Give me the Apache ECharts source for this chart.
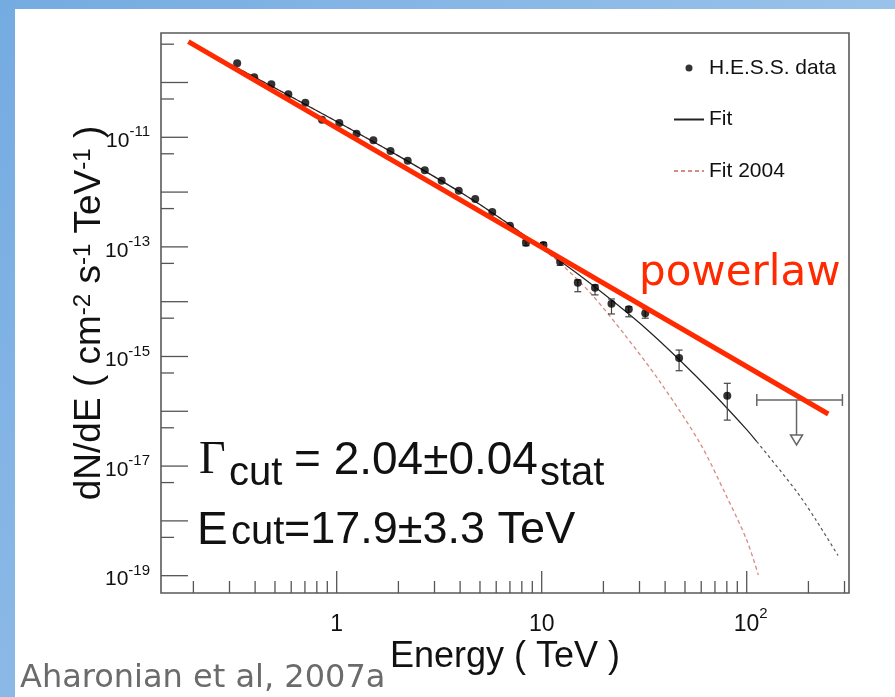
<!DOCTYPE html>
<html><head><meta charset="utf-8">
<script src="https://cdn.jsdelivr.net/npm/echarts@6/dist/echarts.min.js"></script>
<style>html,body{margin:0;padding:0;background:#fff}#c{width:895px;height:697px}</style>
</head><body><div id="c"></div>
<script>
// ---------------- data ----------------
const energy = [0.327,0.396,0.480,0.581,0.703,0.848,1.03,1.25,1.51,1.83,2.22,2.69,3.25,3.94,4.74,5.74,7.0,8.38,10.2,12.3,15.0,18.2,21.9,26.6,32.0,46.8,80.4];
const flux = [2.24e-10,1.24e-10,9.27e-11,6.09e-11,4.28e-11,2.10e-11,1.82e-11,1.16e-11,8.8e-12,5.62e-12,3.74e-12,2.50e-12,1.61e-12,1.06e-12,7.48e-13,4.33e-13,2.44e-13,1.19e-13,1.08e-13,5.37e-14,2.22e-14,1.80e-14,9.2e-15,7.26e-15,6.14e-15,9.4e-16,1.93e-16];
const errEnergy = [8.38,10.2,12.3,15.0,18.2,21.9,26.6,32.0,46.8,80.4];
const errLow  = [1.05e-13,9.6e-14,4.6e-14,1.52e-14,1.33e-14,5.97e-15,5.3e-15,5.0e-15,5.5e-16,6.9e-17];
const errHigh = [1.33e-13,1.2e-13,6.2e-14,2.49e-14,2.02e-14,1.12e-14,8.1e-15,7.4e-15,1.31e-15,3.24e-16];
// upper limit: energy, energy low, energy high, flux, arrow tip
const ulEnergy = [175], ulEnergyLow = [112], ulEnergyHigh = [293], ulFlux = [1.61e-16], ulTip = [2.43e-17];

const fitEnergy = [0.2,0.5,1,2,4,6.26,10,15.7,23.5,32.6,46.8,68.6,100,112];
const fitFlux   = [4.9e-10,7.94e-11,1.94e-11,4.58e-12,1.0e-12,3.37e-13,9.55e-14,2.82e-14,8.67e-15,3.11e-15,8.81e-16,2.11e-16,4.64e-17,2.80e-17];
const fitExtEnergy = [112,175.9,220,279];
const fitExtFlux   = [2.80e-17,3.37e-18,9.75e-19,2.33e-19];
const fit2004Energy = [0.2,0.5,1,2,4,6.26,10,12.29,17.2,25.0,37.8,59.2,79.9,100,114];
const fit2004Flux   = [4.9e-10,7.94e-11,1.94e-11,4.58e-12,1.0e-12,3.37e-13,9.35e-14,5.08e-14,1.47e-14,2.69e-15,3.43e-16,2.61e-17,2.77e-18,4.48e-19,1.03e-19];
const powerlawEnergy = [0.189,250];
const powerlawFlux   = [5.55e-10,8.93e-17];

const xMin = 0.139, xMax = 315.5, yMin = 4.83e-20, yMax = 8.0e-10;
const xMajorTicks = [1,10,100];
const xMinorTicks = [0.2,0.3,0.4,0.5,0.6,0.7,0.8,0.9,2,3,4,5,6,7,8,9,20,30,40,50,60,70,80,90,200,300];
const yMajorTicks = [1e-10,1e-11,1e-12,1e-13,1e-14,1e-15,1e-16,1e-17,1e-18,1e-19];
const yMinorTicks = [5e-10,5e-11,5e-12,5e-13,5e-14,5e-15,5e-16,5e-17,5e-18,5e-19];
const xLabelValues = [1,10,100];
const xTickLabels = ['1','10','10^2'];
const yLabelValues = [1e-11,1e-13,1e-15,1e-17,1e-19];
const yTickLabels = ['10^-11','10^-13','10^-15','10^-17','10^-19'];

// ---------------- chart ----------------
const chart = echarts.init(document.getElementById('c'), null, {renderer:'canvas'});
const AX = '#555';
const labelFont = 'Liberation Sans, Arial, sans-serif';
function richOf(s){ const p = s.split('^'); return '{b|'+p[0]+'}' + (p[1]?'{s|'+p[1]+'}':''); }

function tickSeries(values, axis, len){
  return {type:'custom', silent:true, clip:false, z:6,
    data: values.map(v => axis==='x' ? [v, yMin] : [xMin, v]),
    renderItem(params, api){
      const cs = params.coordSys;
      const p = api.coord([api.value(0), api.value(1)]);
      if(axis==='x') return {type:'line', shape:{x1:p[0], y1:cs.y+cs.height, x2:p[0], y2:cs.y+cs.height-len}, style:{stroke:AX, lineWidth:1.3}};
      return {type:'line', shape:{x1:cs.x, y1:p[1], x2:cs.x+len, y2:p[1]}, style:{stroke:AX, lineWidth:1.3}};
    }};
}
function labelSeries(values, texts, axis){
  return {type:'custom', silent:true, clip:false, z:6,
    data: values.map((v,i) => axis==='x' ? [v, yMin, i] : [xMin, v, i]),
    renderItem(params, api){
      const cs = params.coordSys;
      const p = api.coord([api.value(0), api.value(1)]);
      const t = richOf(texts[api.value(2)]);
      if(axis==='x'){
        const rich = {b:{fontSize:23, fontFamily:labelFont, fill:'#111', padding:[7,0,0,0]}, s:{fontSize:15, fontFamily:labelFont, fill:'#111', verticalAlign:'top'}};
        return {type:'text', x:p[0]+(t.indexOf('{s|')>=0?4:0), y:cs.y+cs.height+28, style:{text:t, rich, align:'center', verticalAlign:'middle'}};
      }
      const rich = {b:{fontSize:21, fontFamily:labelFont, fill:'#111', padding:[6,0,0,0]}, s:{fontSize:15, fontFamily:labelFont, fill:'#111', verticalAlign:'top'}};
      return {type:'text', x:cs.x-11, y:p[1]+1, style:{text:t, rich, align:'right', verticalAlign:'middle'}};
    }};
}

const option = {
  animation:false,
  backgroundColor:'#ffffff',
  grid:{left:161, top:33, right:46, bottom:104, show:true, borderColor:'#5a5a5a', borderWidth:1.6, backgroundColor:'transparent'},
  xAxis:{type:'log', logBase:10, min:xMin, max:xMax,
    axisLine:{show:false}, axisTick:{show:false}, axisLabel:{show:false}, splitLine:{show:false},
    name:'Energy ( TeV )', nameLocation:'middle', nameGap:46,
    nameTextStyle:{fontSize:36, fontFamily:labelFont, color:'#111'}},
  yAxis:{type:'log', logBase:10, min:yMin, max:yMax,
    axisLine:{show:false}, axisTick:{show:false}, axisLabel:{show:false}, splitLine:{show:false},
    name:'dN/dE ( cm{s|-2} s{s|-1} TeV{s|-1} )', nameLocation:'middle', nameGap:53, nameRotate:90,
    nameTextStyle:{fontSize:37, fontFamily:labelFont, color:'#111', rich:{s:{fontSize:24, fontFamily:labelFont, color:'#111', verticalAlign:'top'}}}},
  legend:{data:[{name:'H.E.S.S. data'},{name:'Fit', itemStyle:{opacity:0}},{name:'Fit 2004', itemStyle:{opacity:0}}],
    orient:'vertical', left:668, top:52, itemWidth:30, itemHeight:7, itemGap:29.5, selectedMode:false,
    textStyle:{fontSize:21, fontFamily:labelFont, color:'#111', lineHeight:22}},
  series:[
    {name:'Fit 2004', type:'line', data:fit2004Energy.map((e,i)=>[e,fit2004Flux[i]]), symbol:'none', smooth:0.3, z:3,
      lineStyle:{color:'#d98a85', width:1.3, type:[4,3]}, itemStyle:{color:'#d98a85'}},
    {name:'Fit', type:'line', data:fitEnergy.map((e,i)=>[e,fitFlux[i]]), symbol:'none', smooth:0.3, z:4,
      lineStyle:{color:'#222', width:1.2}, itemStyle:{color:'#222'}},
    {name:'Fit', type:'line', data:fitExtEnergy.map((e,i)=>[e,fitExtFlux[i]]), symbol:'none', smooth:0.3, z:4,
      lineStyle:{color:'#555', width:1.2, type:[3,3]}, itemStyle:{color:'#555'}},
    {name:'powerlaw', type:'line', data:powerlawEnergy.map((e,i)=>[e,powerlawFlux[i]]), symbol:'none', z:8, clip:false,
      lineStyle:{color:'#ff2a00', width:5, cap:'butt'}},
    {name:'errors', type:'custom', z:5, silent:true,
      data: errEnergy.map((e,i)=>[e,errLow[i],errHigh[i]]), encode:{x:0, y:[1,2]},
      renderItem(params, api){
        const a = api.coord([api.value(0), api.value(1)]);
        const b = api.coord([api.value(0), api.value(2)]);
        const st = {stroke:'#444', lineWidth:1.2};
        return {type:'group', children:[
          {type:'line', shape:{x1:a[0], y1:a[1], x2:b[0], y2:b[1]}, style:st},
          {type:'line', shape:{x1:a[0]-3.5, y1:a[1], x2:a[0]+3.5, y2:a[1]}, style:st},
          {type:'line', shape:{x1:b[0]-3.5, y1:b[1], x2:b[0]+3.5, y2:b[1]}, style:st}]};
      }},
    {name:'upper limit', type:'custom', z:5, silent:true, clip:false,
      data: ulEnergy.map((e,i)=>[e,ulEnergyLow[i],ulEnergyHigh[i],ulFlux[i],ulTip[i]]), encode:{x:[0,1,2], y:[3,4]},
      renderItem(params, api){
        const c = api.coord([api.value(0), api.value(3)]);
        const l = api.coord([api.value(1), api.value(3)]);
        const r = api.coord([api.value(2), api.value(3)]);
        const t = api.coord([api.value(0), api.value(4)]);
        const st = {stroke:'#666', lineWidth:1.5};
        return {type:'group', children:[
          {type:'line', shape:{x1:l[0], y1:l[1], x2:r[0], y2:r[1]}, style:st},
          {type:'line', shape:{x1:l[0], y1:l[1]-6, x2:l[0], y2:l[1]+6}, style:st},
          {type:'line', shape:{x1:r[0], y1:r[1]-6, x2:r[0], y2:r[1]+6}, style:st},
          {type:'line', shape:{x1:c[0], y1:c[1], x2:t[0], y2:t[1]-10}, style:st},
          {type:'polygon', shape:{points:[[t[0],t[1]],[t[0]-6,t[1]-10],[t[0]+6,t[1]-10]]}, style:{stroke:'#666', lineWidth:1.5, fill:'#fff'}}]};
      }},
    {name:'H.E.S.S. data', type:'scatter', data:energy.map((e,i)=>[e,flux[i]]), symbol:'circle', symbolSize:8, z:7,
      itemStyle:{color:'#000'}},
    tickSeries(xMajorTicks,'x',22), tickSeries(xMinorTicks,'x',12),
    tickSeries(yMajorTicks,'y',27), tickSeries(yMinorTicks,'y',13),
    labelSeries(xLabelValues, xTickLabels, 'x'), labelSeries(yLabelValues, yTickLabels, 'y')
  ],
  graphic:[
    {type:'rect', z:-10, silent:true, shape:{x:0,y:0,width:895,height:697},
      style:{fill:new echarts.graphic.LinearGradient(0,0,1,1,[{offset:0,color:'#74abe1'},{offset:1,color:'#b0d0f0'}])}},
    {type:'rect', z:-9, silent:true, shape:{x:15,y:9,width:880,height:688}, style:{fill:'#fff'}},
    {type:'text', z:20, x:639, y:274.5, style:{text:'powerlaw', font:'42px "DejaVu Sans"', fill:'#ff2a00', textAlign:'left', textVerticalAlign:'middle'}},
    {type:'text', z:20, x:199, y:461, style:{text:'\u0393', font:'46px "Liberation Serif"', fill:'#111', textAlign:'left', textVerticalAlign:'middle'}},
    {type:'text', z:20, x:229, y:474, style:{text:'cut', font:'40px "Liberation Sans"', fill:'#111', textAlign:'left', textVerticalAlign:'middle'}},
    {type:'text', z:20, x:294, y:461, style:{text:'= 2.04\u00b10.04', font:'46px "Liberation Sans"', fill:'#111', textAlign:'left', textVerticalAlign:'middle'}},
    {type:'text', z:20, x:540, y:474, style:{text:'stat', font:'40px "Liberation Sans"', fill:'#111', textAlign:'left', textVerticalAlign:'middle'}},
    {type:'text', z:20, x:197, y:531, style:{text:'E', font:'46px "Liberation Sans"', fill:'#111', textAlign:'left', textVerticalAlign:'middle'}},
    {type:'text', z:20, x:231, y:533, style:{text:'cut', font:'40px "Liberation Sans"', fill:'#111', textAlign:'left', textVerticalAlign:'middle'}},
    {type:'text', z:20, x:284, y:531, style:{text:'=17.9\u00b13.3 TeV', font:'45px "Liberation Sans"', fill:'#111', textAlign:'left', textVerticalAlign:'middle'}},
    {type:'text', z:20, x:20, y:679, style:{text:'Aharonian et al, 2007a', font:'32px "DejaVu Sans"', fill:'#6b6b6b', textAlign:'left', textVerticalAlign:'middle'}}
  ]
};
chart.setOption(option);
</script></body></html>
